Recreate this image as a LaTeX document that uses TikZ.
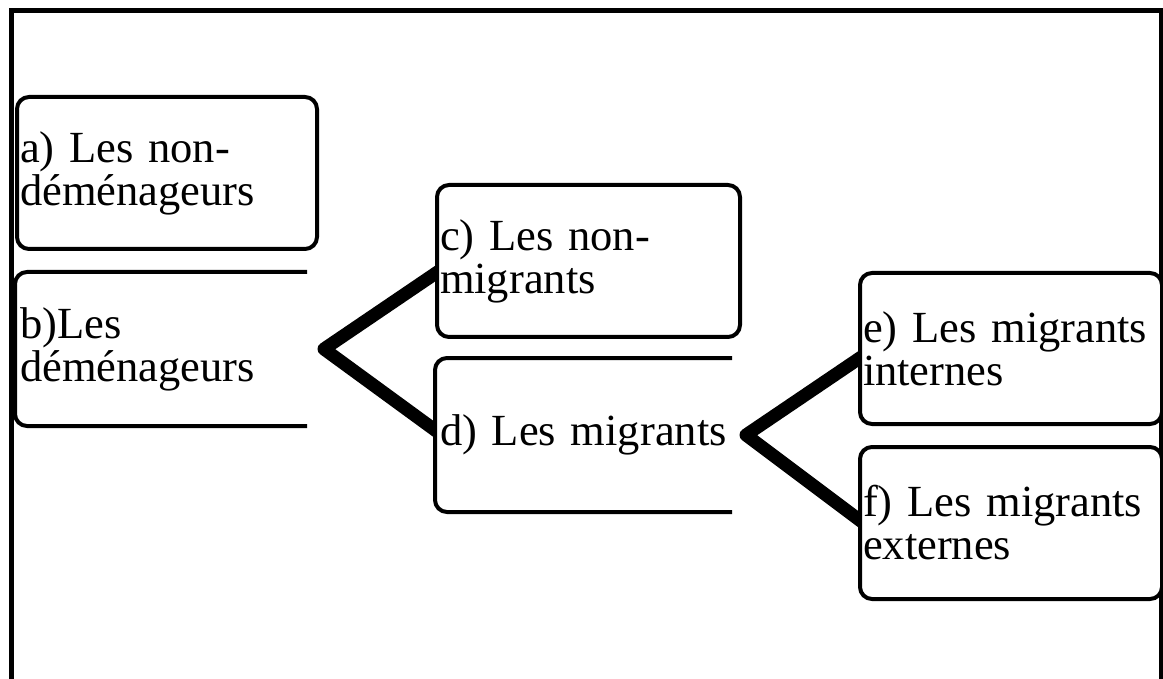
\documentclass[tikz,border=0pt]{standalone}
\usepackage{fontspec}
\setmainfont{Liberation Serif}
\usepackage{tikz}
\usetikzlibrary{calc,backgrounds}

\tikzset{
  box/.style={rectangle, rounded corners=12pt, line width=4pt, fill=white,
    align=left, anchor=north west, inner xsep=3pt, inner ysep=0pt,
    font=\fontsize{44.5}{43}\selectfont},
  link/.style={line width=13pt, line cap=round, line join=round}
}

\begin{document}
\begin{tikzpicture}[x=1pt,y=-1pt]
                \useasboundingbox (0,0) rectangle (1163,679);

                % Draw the outer frame
                \draw[line width=5pt] (11,700) -- (11,11) -- (1161,11) -- (1161,700);

                % Draw the boxes
                \node[box, draw, text width=294pt, minimum height=152pt] (a) at (15,95) {a) Les non-\\déménageurs};
                \node[box, text width=282pt, minimum height=150pt] (b) at (15,272) {b)Les\\déménageurs};
                \node[box, draw, text width=297pt, minimum height=152pt] (c) at (435,183) {c) Les non-\\migrants};
                \node[box, text width=287pt, minimum height=150pt] (d) at (435,358) {d) Les migrants};
                \node[box, draw, text width=296pt, minimum height=151pt] (e) at (858,271) {e) Les migrants\\internes};
                \node[box, draw, text width=296pt, minimum height=152pt] (f) at (858,445) {f) Les migrants\\externes};

                % Open boxes (no right side)
                \draw[line width=4pt, rounded corners=12pt] (b.north east) -- (b.north west) -- (b.south west) -- (b.south east);
                \draw[line width=4pt, rounded corners=12pt] (d.north east) -- (d.north west) -- (d.south west) -- (d.south east);

                % Draw the branches
                \coordinate (bx) at ($(b.east)+(17,0)$);
                \coordinate (dx) at ($(d.east)+(14,0)$);
                \begin{scope}[on background layer]
                \draw[link] ($(c.west)+(4,10)$) -- (bx) -- ($(d.west)+(4,-2)$);
                \draw[link] ($(e.west)+(4,8)$) -- (dx) -- ($(f.west)+(4,-1)$);
                \end{scope}
\end{tikzpicture}
\end{document}
